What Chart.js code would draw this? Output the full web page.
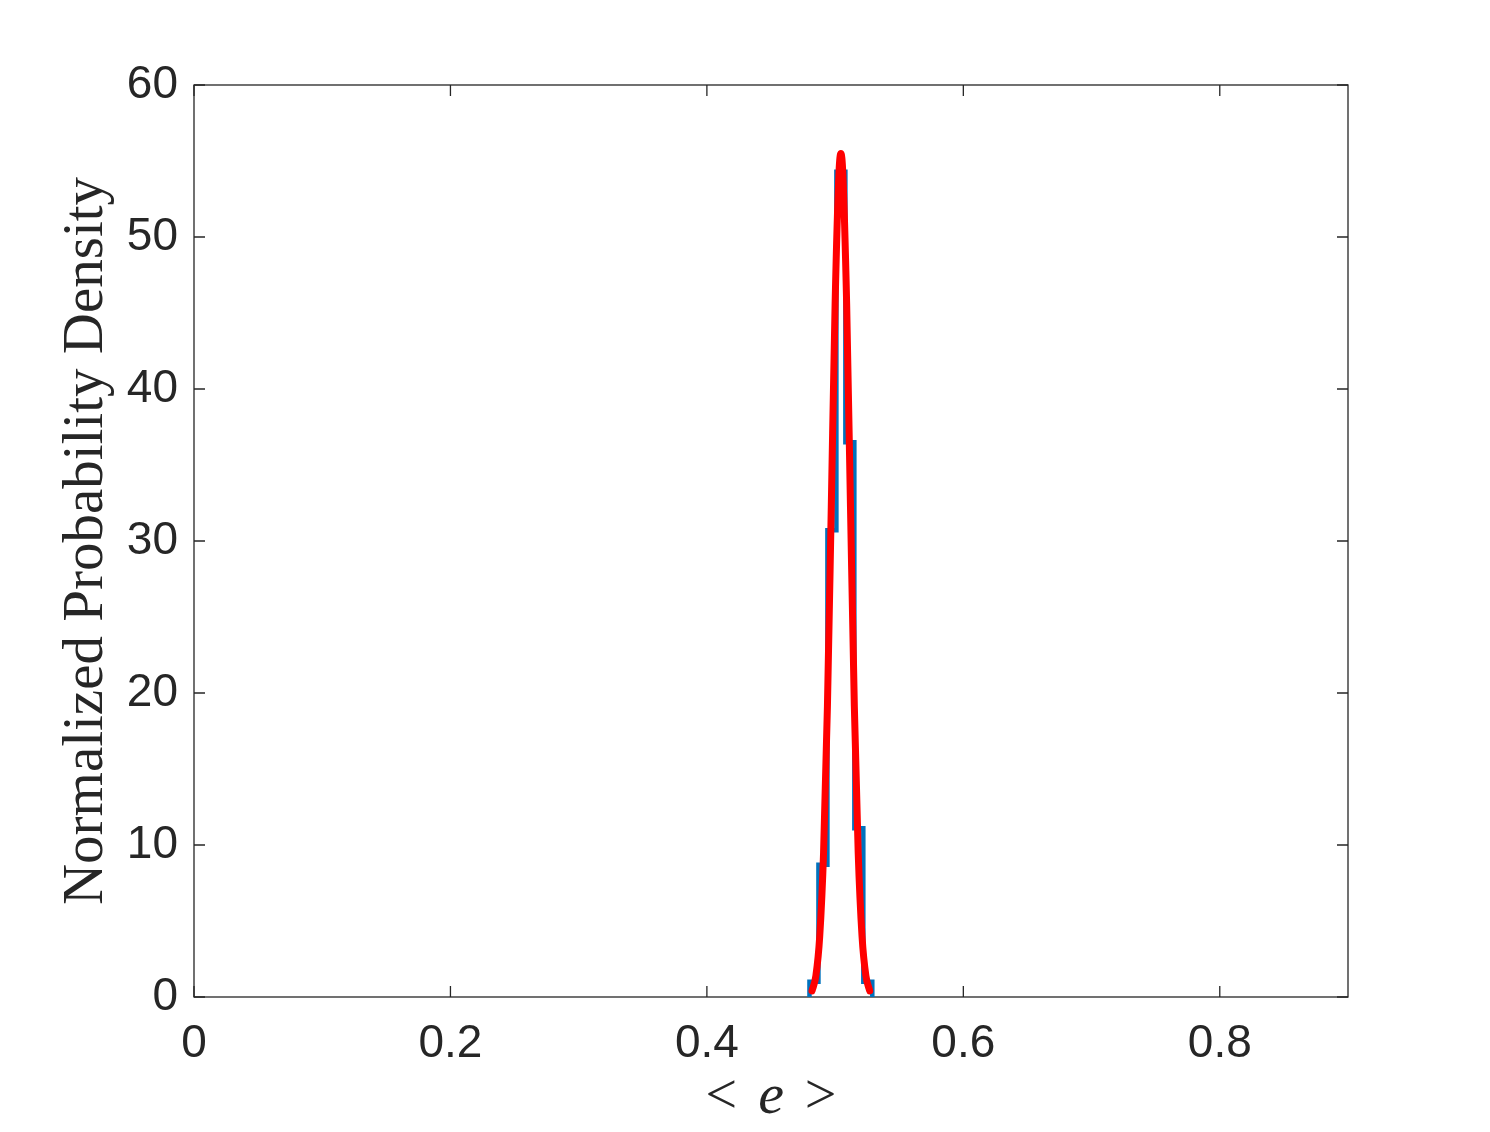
<!DOCTYPE html>
<html>
<head>
<meta charset="utf-8">
<script src="https://cdn.jsdelivr.net/npm/chart.js@4/dist/chart.umd.min.js"></script>
<style>
  html, body { margin: 0; padding: 0; background: #ffffff; }
  canvas { display: block; }
</style>
</head>
<body>
<canvas id="histograma" width="1490" height="1132"></canvas>
<script>
// histogram bins (stairs)
var binEdges = [0.480, 0.487, 0.494, 0.501, 0.508, 0.515, 0.522, 0.529];
var binDensity = [1.0, 8.7, 30.7, 54.3, 36.5, 11.1, 1.0];

// fitted curve, points
var fitX = [0.482, 0.485, 0.488, 0.491, 0.494, 0.497, 0.500, 0.503, 0.5045, 0.506, 0.509, 0.512, 0.515, 0.518, 0.521, 0.524, 0.527];
var fitY = [0.4, 1.4, 4.0, 9.5, 19.1, 32.2, 45.6, 54.2, 55.5, 54.2, 45.6, 32.2, 19.1, 9.5, 4.0, 1.4, 0.4];

var xTicks = [0, 0.2, 0.4, 0.6, 0.8];
var yTicks = [0, 10, 20, 30, 40, 50, 60];

var xTitleParts = ['<', 'e', '>'];
var yTitle = 'Normalized Probability Density';

var ink = '#262626';

// stairs outline: up at first edge, down at last edge
var stairs = [{ x: binEdges[0], y: 0 }];
for (var i = 0; i < binDensity.length; i++) {
    stairs.push({ x: binEdges[i], y: binDensity[i] });
}
stairs.push({ x: binEdges[binEdges.length - 1], y: 0 });

var fit = fitX.map(function (x, i) { return { x: x, y: fitY[i] }; });

// box + inward ticks, matlab style
var cajaEjes = {
    id: 'cajaEjes',
    beforeDatasetsDraw: function (chart) {
        var ctx = chart.ctx, a = chart.chartArea;
        var sx = chart.scales.x, sy = chart.scales.y;
        var largo = 11;
        ctx.save();
        ctx.strokeStyle = ink;
        ctx.lineWidth = 1.3;
        ctx.strokeRect(a.left, a.top, a.right - a.left, a.bottom - a.top);
        ctx.beginPath();
        xTicks.forEach(function (v) {
            var px = sx.getPixelForValue(v);
            ctx.moveTo(px, a.bottom); ctx.lineTo(px, a.bottom - largo);
            ctx.moveTo(px, a.top); ctx.lineTo(px, a.top + largo);
        });
        yTicks.forEach(function (v) {
            var py = sy.getPixelForValue(v);
            ctx.moveTo(a.left, py); ctx.lineTo(a.left + largo, py);
            ctx.moveTo(a.right, py); ctx.lineTo(a.right - largo, py);
        });
        ctx.stroke();
        ctx.restore();
    },
    afterDraw: function (chart) {
        var ctx = chart.ctx, a = chart.chartArea;
        ctx.save();
        ctx.fillStyle = ink;
        // y title, rotated
        ctx.font = '57px "Liberation Serif"';
        ctx.textAlign = 'center';
        ctx.textBaseline = 'alphabetic';
        ctx.translate(102, (a.top + a.bottom) / 2);
        ctx.rotate(-Math.PI / 2);
        ctx.fillText(yTitle, 0, 0);
        ctx.restore();

        // x title: < e > with italic e
        ctx.save();
        ctx.fillStyle = ink;
        ctx.textBaseline = 'alphabetic';
        ctx.textAlign = 'left';
        var fonts = ['56px "Liberation Serif"', 'italic 58px "Liberation Serif"', '56px "Liberation Serif"'];
        var hueco = 21;
        var anchos = xTitleParts.map(function (t, i) { ctx.font = fonts[i]; return ctx.measureText(t).width; });
        var total = anchos.reduce(function (s, w) { return s + w; }, 0) + hueco * 2;
        var x = (a.left + a.right) / 2 - total / 2;
        xTitleParts.forEach(function (t, i) {
            ctx.font = fonts[i];
            ctx.fillText(t, x, 1113);
            x += anchos[i] + hueco;
        });
        ctx.restore();
    }
};

Chart.defaults.font.family = '"Liberation Sans", Arial, sans-serif';
Chart.defaults.color = ink;

var ctxHist = document.getElementById('histograma').getContext('2d');
var grafico = new Chart(ctxHist, {
    type: 'line',
    data: {
        datasets: [{
            label: 'histograma',
            data: stairs,
            order: 2,
            stepped: 'before',
            borderColor: '#0072BD',
            borderWidth: 4.5,
            pointRadius: 0,
            fill: false
        }, {
            label: 'ajuste',
            data: fit,
            order: 1,
            cubicInterpolationMode: 'monotone',
            borderColor: '#FF0000',
            borderWidth: 7,
            borderCapStyle: 'round',
            borderJoinStyle: 'round',
            pointRadius: 0,
            fill: false
        }]
    },
    options: {
        responsive: false,
        animation: false,
        events: [],
        layout: { padding: { left: 0, top: 85, right: 142, bottom: 0 } },
        plugins: { legend: { display: false }, tooltip: { enabled: false } },
        scales: {
            x: {
                type: 'linear',
                min: 0,
                max: 0.9,
                grid: { display: false, drawTicks: false },
                border: { display: false },
                ticks: {
                    stepSize: 0.2,
                    includeBounds: false,
                    padding: 20,
                    font: { size: 46 },
                    color: ink,
                    maxRotation: 0,
                    callback: function (v) { return xTicks.indexOf(Math.round(v * 10) / 10) >= 0 ? String(Math.round(v * 10) / 10) : ''; }
                },
                afterFit: function (s) { s.height = 1132 - 997; }
            },
            y: {
                min: 0,
                max: 60,
                grid: { display: false, drawTicks: false },
                border: { display: false },
                ticks: {
                    stepSize: 10,
                    padding: 16,
                    font: { size: 46 },
                    color: ink
                },
                afterFit: function (s) { s.width = 194; }
            }
        }
    },
    plugins: [cajaEjes]
});
</script>
</body>
</html>
